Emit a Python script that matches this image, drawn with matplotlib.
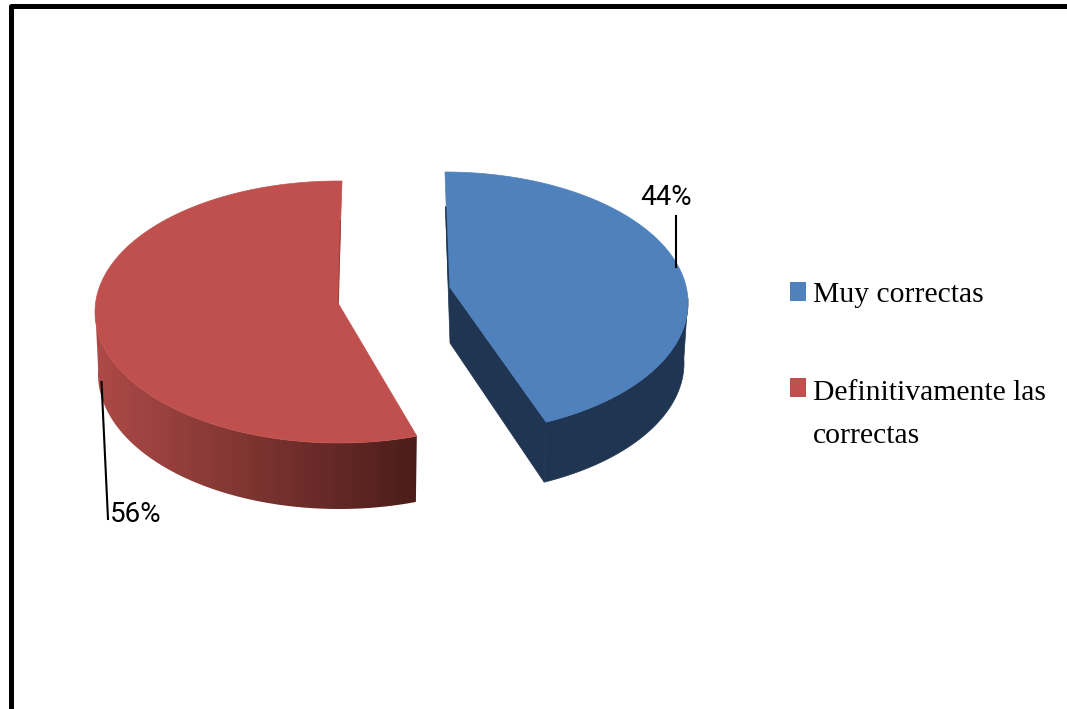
import numpy as np
import matplotlib
matplotlib.use("Agg")
import matplotlib.pyplot as plt
from matplotlib.patches import Polygon, Rectangle
from matplotlib.colors import LinearSegmentedColormap

# data
categories = ["Muy correctas", "Definitivamente las\ncorrectas"]
shares = [44, 56]
labels = ["44%", "56%"]
colors = ["#4F81BD", "#C0504D"]
side_blue = "#1F3551"
side_red = ["#AD4A47", "#4B1D1A"]

W, H = 1067, 709
fig = plt.figure(figsize=(W / 100, H / 100), dpi=100, facecolor="white")
ax = fig.add_axes([0, 0, 1, 1])
ax.set_xlim(0, W)
ax.set_ylim(H, 0)
ax.axis("off")

# frame
ax.plot([10.5, 10.5, W + 5], [H + 5, 5.8, 5.8], color="black", lw=3.6,
        solid_joinstyle="round", zorder=1)


def arc(cx, cy, rx, ry, t0, t1, n=160):
    """Angles in degrees measured clockwise from the top."""
    t = np.radians(np.linspace(t0, t1, n))
    return np.c_[cx + rx * np.sin(t), cy - ry * np.cos(t)]


fractions = np.array(shares) / sum(shares)
blue_end = 360 * fractions[0]
skew = 3.0  # perspective shift of the shared edge

# ---- blue slice
bx, by, brx, bry, bd, bapex = 445.0, 303.0, 243.0, 131.0, 60.0, (449.0, 286.0)
top = arc(bx, by, brx, bry, 0, blue_end - skew)
tip = top[-1]
# cut face
ax.add_patch(Polygon([top[0] + (0.5, 35), bapex, tip, tip + (-2, bd), (bapex[0] + 1, bapex[1] + bd - 3)],
                     closed=True, fc=side_blue, ec=side_blue, lw=0.5, zorder=2))
# outer wall
upper = arc(bx, by, brx, bry, 88, blue_end - skew)
lower = arc(bx, by, brx - 4, bry, 88, blue_end - skew)
lower = lower + (0, bd)
lower[-1] = tip + (-2, bd)
ax.add_patch(Polygon(np.r_[upper, lower[::-1]], closed=True,
                     fc=side_blue, ec=side_blue, lw=0.5, zorder=2))
# top face
ax.add_patch(Polygon(np.r_[[bapex], top], closed=True,
                     fc=colors[0], ec=colors[0], lw=0.5, zorder=3))
ax.plot([top[0][0] + 0.8, bapex[0] - 0.3], [top[0][1] + 35, bapex[1]], color=side_blue, lw=1.0, zorder=4)

# ---- red slice
rx0, ry0, rrx, rry, rd, rapex = 339.0, 312.0, 244.0, 131.0, 62.0, (338.0, 303.0)
rtop = arc(rx0, ry0, rrx, rry, blue_end + skew, 360)
rtop[-1] = (342, ry0 - rry)
# outer wall with left-to-right gradient, clipped to the wall outline
upper = arc(rx0, ry0, rrx, rry, blue_end + skew, 272)
lower = arc(rx0, ry0, rrx - 3, rry + 4, blue_end + skew, 272) + (0, rd)
wall = Polygon(np.r_[upper, lower[::-1]], closed=True, fc="none", ec="none",
               transform=ax.transData)
ax.add_patch(wall)
cmap = LinearSegmentedColormap.from_list("redside", side_red)
x0, x1 = rx0 - rrx, upper[0][0] + 1
im = ax.imshow(np.linspace(0, 1, 256)[None, :], cmap=cmap, aspect="auto",
               extent=(x0, x1, ry0 + rry + rd + 10, ry0 - 10), zorder=2)
im.set_clip_path(wall)
ax.set_xlim(0, W)
ax.set_ylim(H, 0)
# top face
ax.add_patch(Polygon(np.r_[[rapex], rtop], closed=True,
                     fc=colors[1], ec=colors[1], lw=0.5, zorder=3))
ax.plot([340.5, rapex[0] + 0.3], [ry0 - rry + 40, rapex[1]], color="#9A403D", lw=0.8, zorder=4)

# data labels and leader lines
sans = "Roboto"
ax.plot([676, 676], [216, 267], color="black", lw=1.5, zorder=4)
ax.text(640, 205, labels[0], fontsize=20, family=sans, ha="left", va="baseline", color="black", zorder=5)
ax.plot([101.5, 108], [382, 519], color="black", lw=1.5, zorder=4)
ax.text(110, 522, labels[1], fontsize=20, family=sans, ha="left", va="baseline", color="black", zorder=5)

# legend
serif = "Liberation Serif"
ax.add_patch(Rectangle((790, 282), 16, 19, fc=colors[0], ec="none"))
ax.add_patch(Rectangle((790, 378), 16, 19, fc=colors[1], ec="none"))
ax.text(813, 302, categories[0], fontsize=21.3, family=serif, ha="left", va="baseline", color="black")
first, second = categories[1].split("\n")
ax.text(813, 400, first, fontsize=21.3, family=serif, ha="left", va="baseline", color="black")
ax.text(813, 443, second, fontsize=21.3, family=serif, ha="left", va="baseline", color="black")

fig.savefig("out.png", dpi=100, facecolor="white")
